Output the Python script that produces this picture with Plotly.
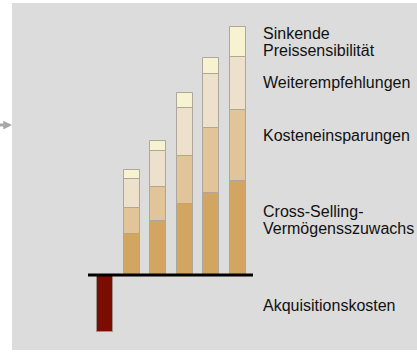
import plotly.graph_objects as go

# ---- data (arbitrary units) ----
positions = [1, 2, 3, 4, 5]
cross_selling = [40.7, 54, 70.7, 81.7, 94]
kosteneinsparungen = [26.6, 34.3, 48.6, 65, 71]
weiterempfehlungen = [28.4, 35.7, 47.4, 54, 53.3]
preissensibilitaet = [9.3, 10, 15.6, 16, 29.4]
akquisitionskosten = [-56.5]

series_names = ["Cross-Selling-Vermögenszuwachs", "Kosteneinsparungen",
                "Weiterempfehlungen", "Sinkende Preissensibilität"]
series_values = [cross_selling, kosteneinsparungen, weiterempfehlungen, preissensibilitaet]
series_colors = ["#D2A561", "#E1C497", "#EEE1CC", "#F7F2CF"]

label_lines = [["Sinkende", "Preissensibilität"], ["Weiterempfehlungen"],
               ["Kosteneinsparungen"], ["Cross-Selling-", "Vermögensszuwachs"],
               ["Akquisitionskosten"]]
label_y = [[242, 225], [193], [140], [64, 47], [-30]]

W, H = 417, 352
x0px, dx = 105.0, 26.5   # pixel of first category centre, pixel spacing
base_px = 275.0

def xu(px):
    return (px - x0px) / dx

def yu(py):
    return base_px - py

fig = go.Figure()

fig.add_trace(go.Bar(x=[0], y=akquisitionskosten, width=16 / dx,
                     marker=dict(color="#7A0C00", line=dict(color="#9C948C", width=1)),
                     name="Akquisitionskosten", showlegend=False))

for name, vals, col in zip(series_names, series_values, series_colors):
    fig.add_trace(go.Bar(x=positions, y=vals, width=16 / dx, name=name,
                         marker=dict(color=col, line=dict(color="#ADA69D", width=1)),
                         showlegend=False))

shapes = [
    # grey panel
    dict(type="rect", xref="x", yref="y", x0=xu(12), x1=xu(418), y0=yu(350), y1=yu(3),
         fillcolor="#DCDCDC", line=dict(width=0), layer="below"),
    # baseline
    dict(type="line", xref="x", yref="y", x0=xu(88), x1=xu(253), y0=0, y1=0,
         line=dict(color="#000000", width=3), layer="above"),
    # arrow shaft on the left
    dict(type="line", xref="x", yref="y", x0=xu(0), x1=xu(8), y0=yu(125), y1=yu(125),
         line=dict(color="#A8A8A8", width=3)),
]

annotations = []
for lines, ys in zip(label_lines, label_y):
    for txt, yy in zip(lines, ys):
        annotations.append(dict(x=xu(261), y=yy, xref="x", yref="y", text=txt,
                                showarrow=False, xanchor="left", yanchor="middle",
                                font=dict(family="Liberation Sans, Arial", size=16,
                                          color="#111111")))

# small arrow head on the left
annotations.append(dict(x=xu(12), y=yu(125), ax=xu(4), ay=yu(125), xref="x", yref="y",
                        axref="x", ayref="y", text="", showarrow=True, arrowhead=2,
                        arrowsize=0.7, arrowwidth=2.5, arrowcolor="#A8A8A8"))

fig.update_layout(
    width=W, height=H, margin=dict(l=0, r=0, t=0, b=0),
    paper_bgcolor="white", plot_bgcolor="white",
    barmode="relative", bargap=0,
    xaxis=dict(range=[xu(0), xu(W)], visible=False, fixedrange=True),
    yaxis=dict(range=[yu(H), yu(0)], visible=False, fixedrange=True),
    shapes=shapes, annotations=annotations,
)

fig.write_html("out.html")
